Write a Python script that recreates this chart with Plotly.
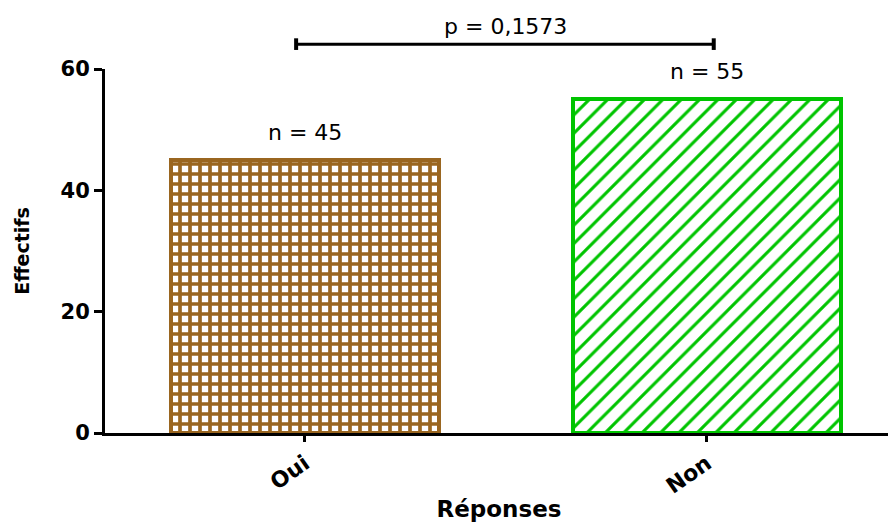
import plotly.graph_objects as go

categories = ["Oui", "Non"]
counts = [45, 55]
n_labels = ["n = 45", "n = 55"]
p_label = "p = 0,1573"
y_ticks = [0, 20, 40, 60]

positions = list(range(len(categories)))
colors = ["#9A6620", "#00C400"]
shapes_pat = ["+", "/"]
pat_sizes = [10, 13]
pat_solid = [0.6, 0.24]

Y_MAX = 60
FONT = "DejaVu Sans, Liberation Sans, Arial"

fig = go.Figure()
for i, (cat, val) in enumerate(zip(categories, counts)):
    fig.add_trace(go.Bar(
        x=[positions[i]], y=[val], width=0.665, name=cat,
        marker=dict(color="white",
                    line=dict(color=colors[i], width=4),
                    pattern=dict(shape=shapes_pat[i], fgcolor=colors[i], bgcolor="white",
                                 fillmode="overlay", size=pat_sizes[i],
                                 solidity=pat_solid[i], fgopacity=1)),
        showlegend=False, hoverinfo="skip",
    ))
    fig.add_annotation(x=positions[i], y=val, text=n_labels[i], showarrow=False,
                       yanchor="bottom", yshift=13, xref="x", yref="y",
                       font=dict(family=FONT, size=22, color="black"))

# significance bracket (above the plot area, in paper units)
bx0, bx1 = positions[0] - 0.022, positions[1] + 0.017
by = 64.1 / Y_MAX
fig.add_shape(type="line", x0=bx0, x1=bx1, y0=by, y1=by, xref="x", yref="paper",
              line=dict(color="black", width=3))
for bx in (bx0, bx1):
    fig.add_shape(type="line", x0=bx, x1=bx, y0=by - 0.016, y1=by + 0.016,
                  xref="x", yref="paper", line=dict(color="black", width=4))
fig.add_annotation(x=(positions[0] + positions[1]) / 2, y=by, text=p_label, showarrow=False,
                   yanchor="bottom", yshift=3, xref="x", yref="paper",
                   font=dict(family=FONT, size=22, color="black"))

# page body has an 8px margin, so the figure is 888x514 placed at (8, 8)
fig.update_layout(
    width=888, height=514,
    margin=dict(l=97, r=3, t=61, b=89),
    plot_bgcolor="white", paper_bgcolor="white",
    bargap=0,
    font=dict(family=FONT, color="black"),
)
fig.update_xaxes(
    automargin=False,
    range=[-0.4975, 1.463], tickvals=positions, ticktext=categories,
    tickangle=-35, ticks="outside", ticklen=6, tickwidth=3, tickcolor="black",
    showline=True, linecolor="black", linewidth=3, showgrid=False, zeroline=False,
    tickfont=dict(family=FONT, size=22, color="black", weight="bold"),
    title=dict(text="<b>Réponses</b>", standoff=8,
               font=dict(family=FONT, size=23, color="black")),
)
fig.update_yaxes(
    automargin=False,
    range=[0, Y_MAX], tickvals=y_ticks, ticks="outside", ticklen=8, tickwidth=3, tickcolor="black",
    showline=True, linecolor="black", linewidth=3, showgrid=False, zeroline=False,
    tickfont=dict(family=FONT, size=21, color="black", weight="bold"),
    title=dict(text="<b>Effectifs</b>", standoff=26,
               font=dict(family=FONT, size=19, color="black")),
)

fig.write_html("out.html")
